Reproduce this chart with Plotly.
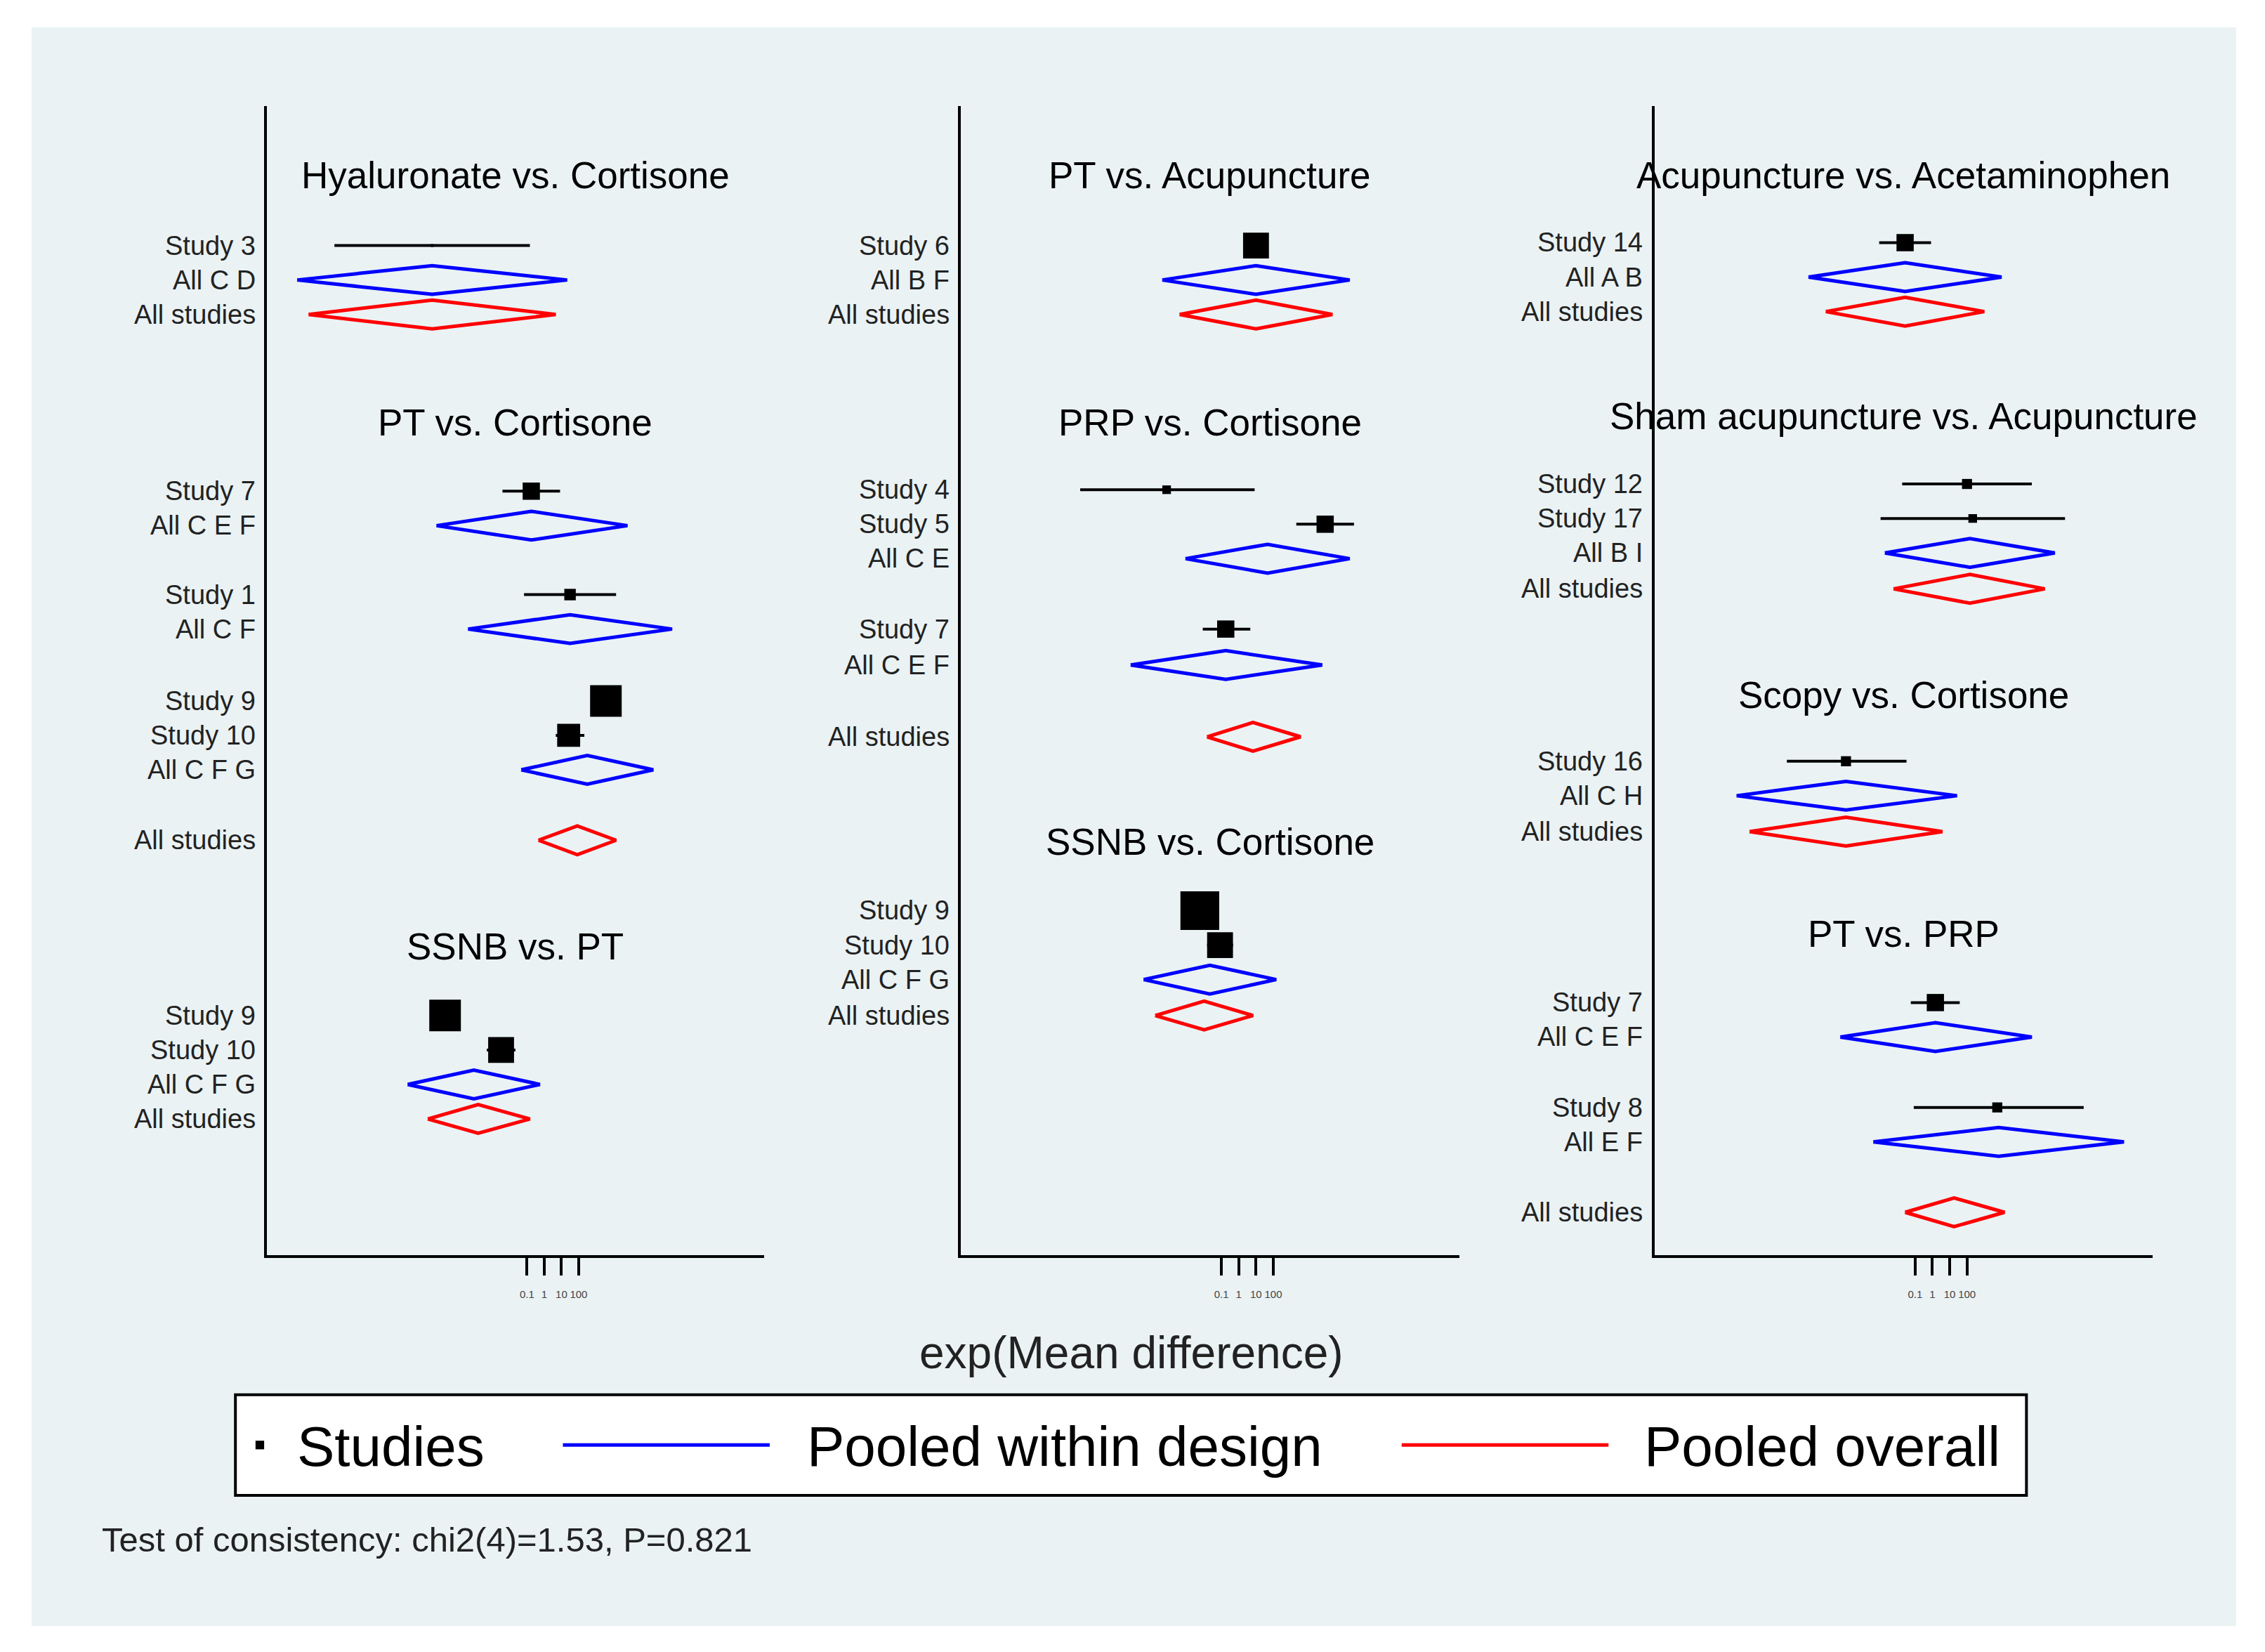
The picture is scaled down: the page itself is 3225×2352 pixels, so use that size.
import plotly.graph_objects as go
from plotly.subplots import make_subplots

## rows per panel: label, row position, kind (s=study, d=within design, o=overall),
## log10 estimate, log10 lower, log10 upper, study weight (square size)
p1_labels = ["Study 3", "All C D", "All studies",
             "Study 7", "All C E F", "Study 1", "All C F", "Study 9", "Study 10", "All C F G", "All studies",
             "Study 9", "Study 10", "All C F G", "All studies"]
p1_rows = [167, 191, 215, 338, 362, 410, 434, 484, 508, 532, 581, 703, 727, 751, 775]
p1_kind = ["s", "d", "o", "s", "d", "s", "d", "s", "s", "d", "o", "s", "s", "d", "o"]
p1_est = [-6.5, -6.5, -6.5, -0.75, -0.75, 1.5, 1.5, 3.58, 1.42, 2.5, 1.92, -5.75, -2.5, -4.08, -3.83]
p1_lo = [-12.17, -14.33, -13.67, -2.42, -6.25, -1.17, -4.42, 3.58, 0.67, -1.33, -0.33, -5.75, -3.33, -7.92, -6.75]
p1_hi = [-0.83, 1.33, 0.67, 0.92, 4.83, 4.17, 7.42, 3.58, 2.33, 6.33, 4.17, -5.75, -1.67, -0.25, -0.83]
p1_w = [2, 0, 0, 12, 0, 8, 0, 22, 16, 0, 0, 22, 18, 0, 0]
p1_titles = ["Hyaluronate vs. Cortisone", "PT vs. Cortisone", "SSNB vs. PT"]
p1_title_rows = [118, 290, 655]

p2_labels = ["Study 6", "All B F", "All studies",
             "Study 4", "Study 5", "All C E", "Study 7", "All C E F", "All studies",
             "Study 9", "Study 10", "All C F G", "All studies"]
p2_rows = [167, 191, 215, 337, 361, 385, 434, 459, 509, 630, 654, 678, 703]
p2_kind = ["s", "d", "o", "s", "s", "d", "s", "d", "o", "s", "s", "d", "o"]
p2_est = [1.0, 1.0, 1.0, -4.17, 5.0, 1.67, -0.75, -0.75, 0.83, -2.25, -1.08, -1.67, -2.0]
p2_lo = [1.0, -4.42, -3.42, -9.17, 3.33, -3.08, -2.08, -6.25, -1.83, -2.25, -1.83, -5.5, -4.83]
p2_hi = [1.0, 6.42, 5.42, 0.92, 6.67, 6.42, 0.67, 4.83, 3.58, -2.25, -0.33, 2.17, 0.83]
p2_w = [18, 0, 0, 6, 12, 0, 12, 0, 0, 27, 18, 0, 0]
p2_titles = ["PT vs. Acupuncture", "PRP vs. Cortisone", "SSNB vs. Cortisone"]
p2_title_rows = [118, 290, 582]

p3_labels = ["Study 14", "All A B", "All studies",
             "Study 12", "Study 17", "All B I", "All studies",
             "Study 16", "All C H", "All studies",
             "Study 7", "All C E F", "Study 8", "All E F", "All studies"]
p3_rows = [165, 189, 213, 333, 357, 381, 406, 526, 550, 575, 694, 718, 767, 791, 840]
p3_kind = ["s", "d", "o", "s", "s", "d", "o", "s", "d", "o", "s", "d", "s", "d", "o"]
p3_est = [-1.58, -1.58, -1.58, 2.0, 2.33, 2.17, 2.17, -5.0, -5.0, -5.0, 0.17, 0.17, 3.75, 3.83, 1.25]
p3_lo = [-3.08, -7.17, -6.17, -1.75, -3.0, -2.75, -2.25, -8.42, -11.33, -10.58, -1.25, -5.33, -1.08, -3.42, -1.58]
p3_hi = [-0.08, 4.0, 3.0, 5.75, 7.67, 7.08, 6.5, -1.5, 1.42, 0.58, 1.58, 5.75, 8.75, 11.08, 4.17]
p3_w = [12, 0, 0, 7, 6, 0, 0, 7, 0, 0, 12, 0, 7, 0, 0]
p3_titles = ["Acupuncture vs. Acetaminophen", "Sham acupuncture vs. Acupuncture", "Scopy vs. Cortisone", "PT vs. PRP"]
p3_title_rows = [118, 286, 480, 646]

tick_vals = [-1, 0, 1, 2]
tick_text = ["0.1", "1", "10", "100"]

panels = [
    (p1_labels, p1_rows, p1_kind, p1_est, p1_lo, p1_hi, p1_w, p1_titles, p1_title_rows),
    (p2_labels, p2_rows, p2_kind, p2_est, p2_lo, p2_hi, p2_w, p2_titles, p2_title_rows),
    (p3_labels, p3_rows, p3_kind, p3_est, p3_lo, p3_hi, p3_w, p3_titles, p3_title_rows),
]

FONT = "Liberation Sans"
W, HT = 1577, 1150  # reference layout units
S = 3225 / W
H = 10  # diamond half height in row units

fig = make_subplots(rows=1, cols=3)
doms = [(182, 528), (665, 1012), (1148, 1495)]

for i, (labels, rows, kind, est, lo, hi, w, titles, trows) in enumerate(panels):
    col = i + 1
    lx, ly, sx, sy, ss = [], [], [], [], []
    dx, dy, ox, oy = [], [], [], []
    for lab, y, k, e, a, b, ww in zip(labels, rows, kind, est, lo, hi, w):
        if k == "s":
            if b > a:
                lx += [a, b, None]
                ly += [y, y, None]
            sx.append(e)
            sy.append(y)
            ss.append(ww * S)
        else:
            xs = [a, e, b, e, a, None]
            ys = [y, y - H, y, y + H, y, None]
            if k == "d":
                dx += xs
                dy += ys
            else:
                ox += xs
                oy += ys
    fig.add_trace(go.Scatter(x=lx, y=ly, mode="lines", line=dict(color="black", width=4), showlegend=False), 1, col)
    fig.add_trace(go.Scatter(x=sx, y=sy, mode="markers",
                             marker=dict(symbol="square", color="#000000", size=ss, opacity=1,
                                         line=dict(width=0)), showlegend=False), 1, col)
    fig.add_trace(go.Scatter(x=dx, y=dy, mode="lines", line=dict(color="blue", width=5), showlegend=False), 1, col)
    fig.add_trace(go.Scatter(x=ox, y=oy, mode="lines", line=dict(color="red", width=5), showlegend=False), 1, col)

    axn = "" if col == 1 else str(col)
    for lab, y in zip(labels, rows):
        fig.add_annotation(text=lab, xref=f"x{axn} domain", yref=f"y{axn}", x=-0.02, y=y,
                           xanchor="right", yanchor="middle", showarrow=False,
                           font=dict(family=FONT, size=38, color="#222"))
    for t, y in zip(titles, trows):
        fig.add_annotation(text=t, xref=f"x{axn} domain", yref=f"y{axn}", x=0.5, y=y,
                           xanchor="center", yanchor="middle", showarrow=False,
                           font=dict(family=FONT, size=53, color="black"))
    d0, d1 = doms[i]
    fig.update_xaxes(row=1, col=col, domain=[d0 / W, d1 / W], range=[-16.08, 12.75],
                     tickvals=tick_vals, ticktext=tick_text, ticks="outside", ticklen=25, tickwidth=4,
                     tickcolor="black", showline=True, linecolor="black", linewidth=4,
                     ticklabelstandoff=14, tickangle=0,
                     showgrid=False, zeroline=False, tickfont=dict(family=FONT, size=15, color="#444"))
    fig.update_yaxes(row=1, col=col, domain=[1 - 870 / HT, 1 - 70 / HT], range=[870, 70],
                     showticklabels=False, ticks="", showline=True, linecolor="black", linewidth=4,
                     showgrid=False, zeroline=False)

def px(x):
    return x / W

def py(y):
    return 1 - y / HT

shapes = [
    dict(type="rect", xref="paper", yref="paper", x0=px(18), x1=px(1553), y0=py(1128), y1=py(15),
         fillcolor="#EAF2F4", line=dict(width=0), layer="below"),
    dict(type="rect", xref="paper", yref="paper", x0=px(160), x1=px(1407), y0=py(1037), y1=py(967),
         fillcolor="white", line=dict(color="black", width=4)),
    dict(type="rect", xref="paper", yref="paper", x0=px(174), x1=px(180), y0=py(1005), y1=py(999),
         fillcolor="black", line=dict(width=0)),
    dict(type="line", xref="paper", yref="paper", x0=px(388), x1=px(532), y0=py(1002), y1=py(1002),
         line=dict(color="blue", width=5)),
    dict(type="line", xref="paper", yref="paper", x0=px(972), x1=px(1116), y0=py(1002), y1=py(1002),
         line=dict(color="red", width=5)),
]
for s in shapes:
    fig.add_shape(**s)

for t, x in [("Studies", 202), ("Pooled within design", 557), ("Pooled overall", 1140)]:
    fig.add_annotation(text=t, xref="paper", yref="paper", x=px(x), y=py(1003), xanchor="left",
                       yanchor="middle", showarrow=False, font=dict(family=FONT, size=80, color="black"))
fig.add_annotation(text="exp(Mean difference)", xref="paper", yref="paper", x=px(784), y=py(938),
                   xanchor="center", yanchor="middle", showarrow=False,
                   font=dict(family=FONT, size=64, color="#222"))
fig.add_annotation(text="Test of consistency: chi2(4)=1.53, P=0.821", xref="paper", yref="paper",
                   x=px(66), y=py(1068), xanchor="left", yanchor="middle", showarrow=False,
                   font=dict(family=FONT, size=49, color="#222"))

fig.update_layout(width=3225, height=2352, margin=dict(l=0, r=0, t=0, b=0),
                  paper_bgcolor="white", plot_bgcolor="white", showlegend=False)
fig.write_html("out.html")
